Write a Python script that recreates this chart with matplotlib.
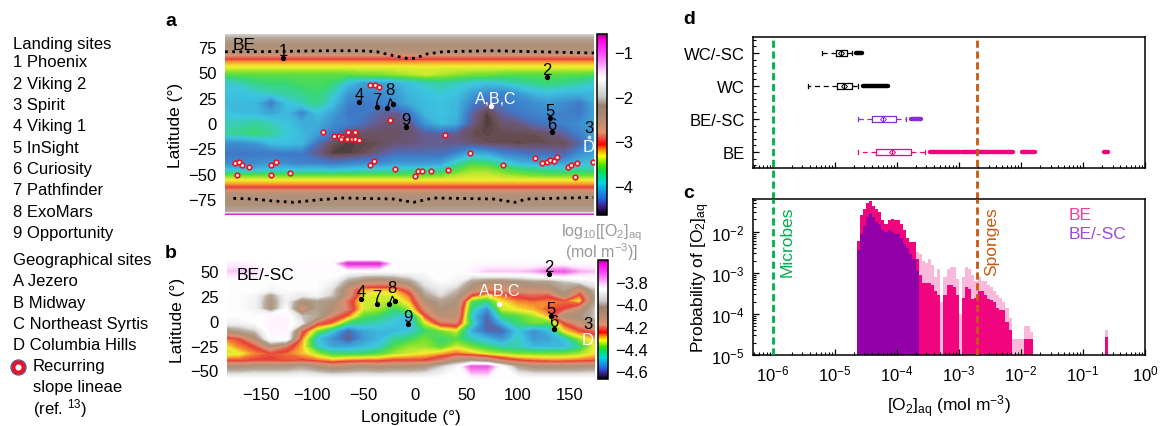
from matplotlib import pyplot as plt
from matplotlib.colors import LinearSegmentedColormap, Normalize
from matplotlib.cm import ScalarMappable
from matplotlib.lines import Line2D
from matplotlib.ticker import LogLocator, NullFormatter, AutoMinorLocator
import numpy as np

W, H = 1161, 427

plt.rcParams['font.family'] = ['Liberation Sans', 'DejaVu Sans']
plt.rcParams['font.size'] = 12
plt.rcParams['mathtext.fontset'] = 'custom'
plt.rcParams['mathtext.rm'] = 'Liberation Sans'
plt.rcParams['mathtext.default'] = 'regular'

# left hand key
landing_sites = ['1 Phoenix', '2 Viking 2', '3 Spirit', '4 Viking 1', '5 InSight',
                 '6 Curiosity', '7 Pathfinder', '8 ExoMars', '9 Opportunity']
geo_sites = ['A Jezero', 'B Midway', 'C Northeast Syrtis', 'D Columbia Hills']

# map grid, log10 concentration
lon_grid = [-185, -170, -155, -140, -125, -110, -95, -80, -65, -50, -35, -20, -5, 10, 25,
            40, 55, 70, 85, 100, 115, 130, 145, 160, 175]
lat_a = [88, 78, 70, 66, 63, 60, 55, 48, 40, 30, 20, 10, 0, -10, -20, -30, -40, -46,
         -52, -56, -60, -63, -66, -70, -80, -88, -88.8, -89.6, -91]
field_a = [
    [-2.05] * 25,
    [-2.45] * 25,
    [-2.5] * 25,
    [-2.85] * 25,
    [-3.07] * 25,
    [-3.2] * 25,
    [-3.36] * 25,
    [-3.62, -3.6, -3.6, -3.6, -3.6, -3.6, -3.6, -3.6, -3.6, -3.55, -3.55, -3.5, -3.45, -3.4, -3.45, -3.5, -3.55, -3.55, -3.6, -3.62, -3.62, -3.62, -3.6, -3.62, -3.65],
    [-3.9, -3.85, -3.75, -3.7, -3.7, -3.65, -3.65, -3.7, -3.95, -4.1, -4.1, -4.05, -3.95, -3.85, -3.8, -3.85, -3.9, -3.95, -3.9, -3.8, -3.75, -3.7, -3.75, -3.8, -3.9],
    [-3.95, -3.95, -3.9, -3.85, -3.8, -3.75, -3.7, -3.85, -4.15, -4.2, -4.2, -4.15, -4.0, -3.95, -3.9, -3.95, -4.1, -4.2, -4.25, -4.15, -4.0, -3.95, -4.0, -4.0, -4.0],
    [-4.0, -3.98, -4.0, -4.3, -3.95, -3.85, -3.75, -3.95, -4.25, -4.3, -4.25, -4.2, -4.05, -3.98, -3.95, -4.0, -4.25, -4.4, -4.3, -4.25, -4.2, -4.15, -4.2, -4.3, -4.05],
    [-3.95, -3.98, -4.0, -4.1, -4.0, -4.25, -3.95, -4.1, -4.3, -4.3, -4.4, -4.45, -4.3, -4.0, -3.95, -4.0, -4.4, -4.6, -4.4, -4.3, -4.25, -4.2, -4.25, -4.3, -4.1],
    [-3.85, -3.85, -3.8, -3.85, -3.95, -4.05, -4.05, -4.2, -4.25, -4.35, -4.45, -4.5, -4.45, -4.15, -3.98, -4.05, -4.45, -4.62, -4.5, -4.48, -4.35, -4.3, -4.25, -4.2, -4.1],
    [-3.8, -3.75, -3.7, -3.78, -3.9, -4.0, -4.1, -4.3, -4.5, -4.52, -4.52, -4.52, -4.5, -4.42, -4.4, -4.45, -4.55, -4.58, -4.55, -4.55, -4.55, -4.5, -4.4, -4.25, -4.1],
    [-4.2, -4.2, -4.15, -4.0, -3.95, -4.0, -4.35, -4.55, -4.6, -4.58, -4.55, -4.5, -4.48, -4.45, -4.45, -4.45, -4.5, -4.55, -4.55, -4.58, -4.55, -4.55, -4.55, -4.4, -4.15],
    [-4.3, -4.3, -4.3, -4.3, -4.3, -4.3, -4.45, -4.6, -4.6, -4.55, -4.45, -4.35, -4.35, -4.35, -4.35, -4.25, -4.05, -4.1, -4.25, -4.3, -4.35, -4.35, -4.4, -4.2, -4.1],
    [-4.2, -4.2, -4.2, -4.15, -4.2, -4.25, -4.25, -4.3, -4.25, -4.2, -4.2, -4.15, -4.15, -4.15, -4.1, -3.85, -3.65, -3.7, -3.85, -4.0, -4.05, -4.1, -4.1, -4.0, -3.95],
    [-3.95, -4.0, -4.0, -3.95, -3.95, -3.95, -3.95, -4.0, -3.95, -3.9, -3.9, -3.85, -3.85, -3.85, -3.85, -3.65, -3.5, -3.5, -3.6, -3.7, -3.75, -3.8, -3.85, -3.8, -3.8],
    [-3.58, -3.58, -3.58, -3.58, -3.58, -3.58, -3.58, -3.58, -3.58, -3.58, -3.58, -3.58, -3.58, -3.58, -3.55, -3.45, -3.4, -3.4, -3.45, -3.5, -3.55, -3.58, -3.58, -3.58, -3.58],
    [-3.35] * 25,
    [-3.2] * 25,
    [-3.07] * 25,
    [-2.85] * 25,
    [-2.5] * 25,
    [-2.45] * 25,
    [-2.2] * 25,
    [-1.6] * 25,
    [-0.8] * 25,
    [-0.75] * 25,
]

# map grid
lat_b = [62, 58, 50, 40, 32, 26, 20, 12, 5, -2, -10, -18, -26, -33, -40, -46, -59]
field_b = [
    [-3.88] * 25,
    [-3.85, -3.85, -3.88, -3.88, -3.88, -3.88, -3.88, -3.88, -3.65, -3.65, -3.65, -3.88, -3.88, -3.88, -3.88, -3.88, -3.88, -3.88, -3.88, -3.88, -3.88, -3.88, -3.88, -3.88, -3.88],
    [-3.8, -3.8, -3.82, -3.88, -3.88, -3.88, -3.88, -3.88, -3.9, -3.9, -3.9, -3.9, -3.9, -3.9, -3.9, -3.9, -3.85, -3.8, -3.8, -3.8, -3.78, -3.72, -3.7, -3.78, -3.8],
    [-3.9, -3.9, -3.9, -3.9, -3.9, -3.9, -3.9, -3.92, -4.05, -4.12, -4.15, -4.12, -4.05, -3.95, -3.9, -3.92, -4.05, -4.1, -4.1, -4.08, -4.05, -4.05, -4.0, -3.95, -3.92],
    [-3.89, -3.89, -3.89, -3.92, -3.9, -3.9, -3.9, -3.98, -4.15, -4.3, -4.3, -4.3, -4.2, -4.0, -3.95, -4.0, -4.12, -4.2, -4.18, -4.15, -4.15, -4.13, -4.05, -4.18, -4.0],
    [-3.9, -3.9, -3.92, -4.05, -3.92, -3.95, -3.92, -4.0, -4.15, -4.33, -4.34, -4.33, -4.27, -4.05, -3.98, -4.05, -4.25, -4.32, -4.27, -4.24, -4.22, -4.24, -4.1, -4.27, -4.05],
    [-3.9, -3.9, -3.93, -4.08, -3.93, -4.1, -4.05, -4.08, -4.22, -4.34, -4.34, -4.36, -4.3, -4.12, -4.05, -4.08, -4.4, -4.43, -4.32, -4.28, -4.27, -4.28, -4.27, -4.33, -4.05],
    [-3.9, -3.9, -3.93, -4.08, -3.9, -4.2, -4.05, -4.1, -4.2, -4.34, -4.36, -4.42, -4.36, -4.18, -4.08, -4.12, -4.44, -4.55, -4.34, -4.32, -4.3, -4.26, -4.25, -4.15, -4.0],
    [-3.9, -3.9, -3.9, -3.86, -3.86, -4.0, -4.03, -4.2, -4.28, -4.4, -4.42, -4.46, -4.5, -4.26, -4.12, -4.12, -4.48, -4.6, -4.42, -4.4, -4.36, -4.3, -4.1, -4.08, -4.0],
    [-3.93, -3.93, -3.9, -3.86, -3.86, -3.95, -4.22, -4.28, -4.42, -4.44, -4.46, -4.48, -4.5, -4.34, -4.22, -4.2, -4.44, -4.62, -4.5, -4.42, -4.38, -4.4, -4.25, -4.15, -4.05],
    [-4.1, -4.05, -4.0, -3.86, -3.86, -4.22, -4.38, -4.48, -4.6, -4.52, -4.5, -4.5, -4.48, -4.42, -4.38, -4.34, -4.52, -4.6, -4.6, -4.48, -4.55, -4.5, -4.32, -4.26, -4.22],
    [-4.28, -4.25, -4.12, -3.88, -3.88, -4.28, -4.48, -4.55, -4.62, -4.54, -4.5, -4.44, -4.42, -4.38, -4.42, -4.4, -4.46, -4.5, -4.54, -4.46, -4.54, -4.52, -4.48, -4.36, -4.3],
    [-4.33, -4.28, -4.25, -4.12, -4.22, -4.3, -4.46, -4.52, -4.52, -4.5, -4.47, -4.4, -4.36, -4.36, -4.4, -4.34, -4.38, -4.42, -4.46, -4.46, -4.5, -4.5, -4.5, -4.44, -4.32],
    [-4.34, -4.33, -4.28, -4.26, -4.27, -4.3, -4.36, -4.42, -4.42, -4.42, -4.4, -4.36, -4.34, -4.32, -4.3, -4.27, -4.3, -4.34, -4.36, -4.38, -4.38, -4.38, -4.38, -4.36, -4.32],
    [-4.26, -4.26, -4.25, -4.25, -4.26, -4.25, -4.27, -4.3, -4.28, -4.27, -4.27, -4.25, -4.25, -4.25, -4.2, -4.1, -4.08, -4.12, -4.2, -4.25, -4.27, -4.28, -4.28, -4.27, -4.26],
    [-4.1, -4.1, -4.08, -4.08, -4.08, -4.05, -4.1, -4.15, -4.12, -4.1, -4.12, -4.1, -4.1, -4.08, -4.0, -3.92, -3.7, -3.7, -3.9, -4.05, -4.1, -4.1, -4.1, -4.1, -4.08],
    [-3.88] * 25,
]

# polar dotted lines in panel a
north_lon = [-184.5, -150.5, -85.7, -53.4, -37.2, -21, -8.1, 0, 11.3, 27.5, 75.9, 174]
north_lat = [70.4, 70.4, 71.4, 71.4, 70.4, 66.5, 63.9, 63.9, 68.1, 70.4, 71.4, 69.1]
south_lon = [-176.4, -157, -140.8, -118, -92.2, -69.6, -21, -1.6, 17.8, 75.9, 97, 108.4, 173]
south_lat = [-74.4, -75, -76.7, -78.3, -75.7, -74, -75, -78.3, -74, -75, -78.3, -75, -73.4]

# recurring slope lineae
rsl_lon = [-43.7, -38.8, -35, -24.3, -89.6, -78.3, -74.1, -70.9, -71.5, -66.3, -65.4, -57.9, -60.8, -57.9, -54.4,
           -43.4, -40.1, -174.8, -171.2, -167.7, -161.5, -172.5, -139.5, -134.6, -139.5, -121.4, -19.7, 2.6, 6.5,
           0.3, 15.9, 31.7, 29.5, 53.7, 85.4, 116.8, 123, 127.9, 131.4, 135.2, 137.6, 148.5, 151.2, 157, 155.3, 172.8]
rsl_lat = [37.8, 37.8, 35.2, 3, -9.2, -12.8, -12.8, -14.1, -15.5, -15.5, -8.6, -9.2, -15.5, -15.5, -16.8,
           -41.1, -37.5, -39.8, -38.8, -41.1, -43.8, -51.3, -41.1, -38.8, -51.3, -49.4, -45.7, -47.4, -47.4,
           -52.6, -47.4, -46.4, -12.2, -29.9, -41.8, -34.6, -39.8, -38.8, -36.5, -37.8, -33.9, -43.8, -41.1, -39.8, -53.6, -38.8]

# landing sites: label, lon, lat
sites_a = [('1', -128, 64), ('2', 128, 45), ('4', -54, 21), ('7', -37, 16), ('9', -9, -4), ('5', 131, 5), ('6', 133, -9)]
sites_b = [('2', 130, 47), ('4', -52, 22), ('7', -37, 17), ('9', -7, -3), ('5', 132, 5), ('6', 135, -8)]
exomars_a = [(-27, 15), (-21, 19)]
exomars_b = [(-25, 17), (-19, 20)]
abc_a = (74, 17)
abc_b = (82, 17)
spirit_a = (169, -14)

# box stats in log10 mol m-3
box_names = ['BE', 'BE/-SC', 'WC', 'WC/-SC']
box_colors = ['#f0057f', '#8a2be2', 'black', 'black']
box_low = [-4.63, -4.63, -5.435, -5.215]
box_q1 = [-4.34, -4.40, -4.96, -4.98]
box_med = [-4.08, -4.23, -4.86, -4.90]
box_q3 = [-3.77, -4.02, -4.72, -4.81]
box_high = [-3.54, -3.85, -4.63, -4.72]
flier_runs = [
    [(-3.47, -2.99), (-2.95, -2.13), (-1.98, -1.78), (-0.66, -0.59)],
    [(-3.77, -3.61)],
    [(-4.54, -4.15)],
    [(-4.66, -4.56)],
]
microbes_limit = 1e-6
sponges_limit = 1.95e-3

# histogram, log10 bin edges and log10 probabilities
hist_edges = [-4.65, -4.6, -4.55, -4.5, -4.45, -4.4, -4.35, -4.3, -4.25, -4.2, -4.15, -4.1, -4.05, -4.0, -3.95, -3.9,
              -3.85, -3.8, -3.75, -3.7, -3.65, -3.6, -3.55, -3.5, -3.45, -3.4, -3.35, -3.3, -3.25, -3.2, -3.15, -3.1,
              -3.05, -3.0, -2.95, -2.9, -2.85, -2.8, -2.75, -2.7, -2.65, -2.6, -2.55, -2.5, -2.45, -2.4, -2.35, -2.3,
              -2.25, -2.2, -2.15, -1.95, -1.9, -1.85, -1.8, -0.65, -0.6]
be_solid = [-2.22, -1.6, -1.45, -1.3, -1.24, -1.36, -1.45, -1.52, -1.72, -1.8, -1.7, -1.68, -1.72, -1.7, -1.82, -1.95,
            -2.15, -2.25, -2.25, -2.65, -3.05, -3.25, -3.25, -3.25, -3.3, -3.45, -3.55, -9, -3.55, -3.3, -3.3, -3.35,
            -3.55, -9, -3.62, -3.35, -3.4, -3.63, -3.6, -3.45, -3.45, -3.55, -3.63, -3.65, -3.7, -3.85, -3.9, -3.9,
            -4.2, -4.4, -9, -4.6, -4.6, -4.6, -9, -4.55]
be_spikes = [-2.22, -1.6, -1.45, -1.3, -1.24, -1.36, -1.45, -1.52, -1.72, -1.8, -1.7, -1.68, -1.72, -1.7, -1.82, -1.95,
             -2.15, -2.25, -2.25, -2.5, -2.55, -2.7, -2.75, -2.65, -2.8, -3.1, -2.9, -3.7, -3.1, -2.9, -2.85, -2.85,
             -3.15, -4.0, -3.1, -2.85, -2.9, -3.05, -3.2, -3.1, -3.2, -3.2, -3.3, -3.35, -3.45, -3.55, -3.6, -3.7,
             -3.85, -4.1, -4.6, -4.3, -4.3, -4.45, -9, -4.4]
besc_solid = [-2.45, -2.05, -1.85, -1.65, -1.55, -1.65, -1.75, -1.8, -1.95, -2.0, -1.95, -2.0, -2.05, -2.05, -2.15, -2.3,
              -2.4, -2.55, -2.65, -2.95]

cmap_nodes = [(-4.65, '#000000'), (-4.45, '#402090'), (-4.3, '#2060e0'), (-3.93, '#00d8e0'), (-3.7, '#00e060'),
              (-3.55, '#40e000'), (-3.33, '#ffff00'), (-3.18, '#ff8000'), (-3.07, '#ff0000'), (-2.8, '#e09070'),
              (-2.43, '#a88a70'), (-2.2, '#9a8070'), (-2.0, '#c8c8c8'), (-1.6, '#ffffff'), (-1.46, '#ffe0ff'),
              (-1.24, '#ff90ff'), (-1.0, '#ff40ff'), (-0.72, '#ff00e0'), (-0.6, '#9a0090')]
# the maps are a translucent overlay so they sit paler and browner at the low end
map_nodes = [(-4.65, '#3a2e30'), (-4.55, '#6a5055'), (-4.45, '#6a5a8a'), (-4.3, '#3f78c8'), (-3.93, '#3cc6e0'), (-3.7, '#38d870'),
             (-3.55, '#70e030'), (-3.33, '#f5ee30'), (-3.18, '#f59030'), (-3.07, '#e84038'), (-2.8, '#d89070'),
             (-2.43, '#ab917a'), (-2.2, '#b8aa9c'), (-2.0, '#e2e2e2'), (-1.7, '#ffffff'), (-1.46, '#ffe8ff'),
             (-1.24, '#f8a0f0'), (-1.0, '#f060e8'), (-0.72, '#e020d0'), (-0.6, '#b030b0')]


def make_cmap(nodes, name):
    lo, hi = nodes[0][0], nodes[-1][0]
    return LinearSegmentedColormap.from_list(name, [((v - lo) / (hi - lo), c) for v, c in nodes], N=512)


cbar_cmap = make_cmap(cmap_nodes, 'o2')
map_cmap = make_cmap(map_nodes, 'o2map')


def add_axes_px(left, top, right, bottom):
    return fig.add_axes([left / W, 1 - bottom / H, (right - left) / W, (bottom - top) / H])


def fig_text(x, y, s, **kw):
    kw.setdefault('va', 'center')
    return fig.text(x / W, 1 - y / H, s, **kw)


def draw_map(ax, lats, field, vmin, vmax, xlim, ylim):
    levels = np.linspace(vmin, vmax, 200)
    ax.contourf(lon_grid, lats, np.array(field), levels=levels, cmap=map_cmap, extend='both')
    ax.set_xlim(*xlim)
    ax.set_ylim(*ylim)
    for s in ax.spines.values():
        s.set_visible(False)
    ax.tick_params(length=0, labelsize=12, pad=6)
    ax.set_ylabel('Latitude (°)', fontsize=12.5)


def draw_sites(ax, sites):
    for label, lon, lat in sites:
        ax.plot([lon], [lat], 'o', color='black', ms=2.8, zorder=5)
        ax.annotate(label, (lon, lat), xytext=(0, 5.5), textcoords='offset points', ha='center', va='center',
                    fontsize=12, zorder=6)


def draw_exomars(ax, pts):
    (x0, y0), (x1, y1) = pts
    top = (x0 + 3, y1 + 5)
    ax.plot([x0, top[0], x1], [y0, top[1], y1], color='black', lw=0.9, zorder=5)
    ax.plot([x0, x1], [y0, y1], 'o', color='black', ms=2.8, ls='none', zorder=5)
    ax.annotate('8', top, xytext=(0, 6.5), textcoords='offset points', ha='center', va='center', fontsize=12, zorder=6)


def draw_cbar(left, top, right, bottom, vmin, vmax, ticks):
    cax = add_axes_px(left, top, right, bottom)
    cb = fig.colorbar(ScalarMappable(Normalize(vmin, vmax), cbar_cmap), cax=cax, ticks=ticks)
    cb.ax.tick_params(length=0, labelsize=12, pad=5)
    cb.outline.set_linewidth(1.1)
    cb.minorticks_off()
    return cb


fig = plt.figure(figsize=(W / 100, H / 100), dpi=100)

# ---- key
fig_text(13, 44, 'Landing sites')
for i, name in enumerate(landing_sites):
    fig_text(13, 63 + i * 21.3, name)
fig_text(13, 261, 'Geographical sites')
for i, name in enumerate(geo_sites):
    fig_text(13, 282 + i * 21.2, name)
fig_text(33, 367, 'Recurring')
fig_text(33, 388, 'slope lineae')
fig_text(33, 409, '(ref. $^{13}$)')
fig.add_artist(Line2D([18 / W], [1 - 368 / H], transform=fig.transFigure, marker='o', ms=7.5, mfc='white',
                      mec='#e8102a', mew=3, ls='none'))
fig.add_artist(Line2D([18 / W], [1 - 368 / H], transform=fig.transFigure, marker='o', ms=11, mfc='none',
                      mec='#3a4a90', mew=0.7, ls='none'))

for x, y, s in [(171, 21, 'a'), (171, 254, 'b'), (689, 20, 'd'), (689, 194, 'c')]:
    fig_text(x, y, s, fontsize=14, fontweight='bold', ha='center')

# ---- panel a
ax_a = add_axes_px(225, 35, 594, 216)
draw_map(ax_a, lat_a, field_a, -4.65, -0.6, (-184.5, 173.8), (-90.8, 87.9))
ax_a.set_xticks([])
ax_a.set_yticks([75, 50, 25, 0, -25, -50, -75])
ax_a.plot(north_lon, north_lat, color='black', lw=2, ls=(0, (1, 1.6)), zorder=4)
ax_a.plot(south_lon, south_lat, color='black', lw=2, ls=(0, (1, 1.6)), zorder=4)
ax_a.scatter(rsl_lon, rsl_lat, s=11, facecolor='white', edgecolor='#f01020', linewidth=1.2, zorder=5)
draw_sites(ax_a, sites_a)
draw_exomars(ax_a, exomars_a)
ax_a.plot(*abc_a, 'o', color='white', ms=2.8, zorder=5)
ax_a.annotate('A,B,C', abc_a, xytext=(3, 5), textcoords='offset points', ha='center', va='center',
              color='white', fontsize=11.5, zorder=6)
ax_a.plot(*spirit_a, 'o', color='#c8d8e8', ms=1.8, zorder=5)
ax_a.annotate('3', spirit_a, xytext=(0, 7), textcoords='offset points', ha='center', va='center', fontsize=12, zorder=6)
ax_a.annotate('D', spirit_a, xytext=(0, -7), textcoords='offset points', ha='center', va='center', color='white', fontsize=12, zorder=6)
fig_text(233, 45, 'BE', fontsize=12.5)
draw_cbar(597, 35, 607, 216, -4.65, -0.6, [-1, -2, -3, -4])

# ---- panel b
ax_b = add_axes_px(227, 261, 595, 380)
draw_map(ax_b, lat_b, field_b, -4.67, -3.6, (-182.5, 174.8), (-58.6, 61.6))
ax_b.set_xticks([-150, -100, -50, 0, 50, 100, 150])
ax_b.set_yticks([50, 25, 0, -25, -50])
ax_b.set_xlabel('Longitude (°)', fontsize=12.5, labelpad=4.5)
draw_sites(ax_b, sites_b)
draw_exomars(ax_b, exomars_b)
ax_b.plot(*abc_b, 'o', color='white', ms=2.8, zorder=5)
ax_b.annotate('A,B,C', abc_b, xytext=(0, 9.5), textcoords='offset points', ha='center', va='center',
              color='white', fontsize=11.5, zorder=6)
ax_b.text(168, -3, '3', ha='center', va='center', fontsize=12, zorder=6)
ax_b.text(168, -19, 'D', ha='center', va='center', color='white', fontsize=12, zorder=6)
fig_text(237, 276, 'BE/-SC', fontsize=12.5)
draw_cbar(598, 261, 608, 380, -4.67, -3.6, [-3.8, -4.0, -4.2, -4.4, -4.6])
fig_text(601, 233, 'log$_{10}$[[O$_2$]$_{aq}$', ha='center', color='#9a9a9a', fontsize=11.5)
fig_text(601, 252, '(mol m$^{-3}$)]', ha='center', color='#9a9a9a', fontsize=11.5)

# ---- panel d
ax_d = add_axes_px(753, 38, 1145, 169)
ax_d.set_xscale('log')
ax_d.set_xlim(10 ** -6.32, 1)
ax_d.set_ylim(0.515, 4.485)
positions = [1, 2, 3, 4]
for i, pos in enumerate(positions):
    col = box_colors[i]
    stats = [{'whislo': 10 ** box_low[i], 'q1': 10 ** box_q1[i], 'med': 10 ** box_med[i], 'q3': 10 ** box_q3[i],
              'whishi': 10 ** box_high[i], 'mean': 10 ** box_med[i], 'fliers': []}]
    ax_d.bxp(stats, positions=[pos], orientation='horizontal', widths=0.19, showmeans=True, manage_ticks=False,
             boxprops={'color': col, 'lw': 0.9},
             whiskerprops={'color': col, 'lw': 0.9, 'ls': (0, (4, 3))},
             capprops={'color': col, 'lw': 0.9},
             medianprops={'color': col, 'lw': 0.9},
             meanprops={'marker': 'D', 'ms': 3, 'mfc': 'none', 'mec': col, 'mew': 0.7})
    for a, b in flier_runs[i]:
        ax_d.plot([10 ** a, 10 ** b], [pos, pos], color=col, lw=3.2, solid_capstyle='round')
ax_d.set_yticks(positions)
ax_d.set_yticklabels(box_names)
ax_d.yaxis.set_minor_locator(AutoMinorLocator(5))
ax_d.xaxis.set_major_locator(LogLocator(base=10, numticks=12))
ax_d.xaxis.set_minor_locator(LogLocator(base=10, subs=np.arange(2, 10), numticks=12))
ax_d.xaxis.set_major_formatter(NullFormatter())
ax_d.xaxis.set_minor_formatter(NullFormatter())
ax_d.tick_params(axis='both', which='major', direction='in', length=4, width=0.9, labelsize=12, pad=6)
ax_d.tick_params(axis='both', which='minor', direction='in', length=2, width=0.8)
for s in ax_d.spines.values():
    s.set_linewidth(1.1)

# ---- panel c
ax_c = add_axes_px(753, 200, 1145, 356)
ax_c.set_xscale('log')
ax_c.set_yscale('log')
ax_c.set_xlim(10 ** -6.32, 1)
ax_c.set_ylim(1e-5, 10 ** -1.2)
edges = 10.0 ** np.array(hist_edges)
ax_c.stairs(10.0 ** np.array(be_spikes), edges, fill=True, color='#f0057f', alpha=0.28, lw=0, baseline=1e-6)
ax_c.stairs(10.0 ** np.array(be_solid), edges, fill=True, color='#f0057f', lw=0, baseline=1e-6)
ax_c.stairs(10.0 ** np.array(besc_solid), edges[:len(besc_solid) + 1], fill=True, color='#9200a8', lw=0, baseline=1e-6)
ax_c.set_xticks([1e-6, 1e-5, 1e-4, 1e-3, 1e-2, 1e-1, 1])
ax_c.xaxis.set_minor_locator(LogLocator(base=10, subs=np.arange(2, 10), numticks=12))
ax_c.yaxis.set_minor_locator(LogLocator(base=10, subs=np.arange(2, 10), numticks=12))
ax_c.xaxis.set_minor_formatter(NullFormatter())
ax_c.yaxis.set_minor_formatter(NullFormatter())
ax_c.set_yticks([1e-5, 1e-4, 1e-3, 1e-2])
ax_c.tick_params(axis='both', which='major', direction='in', length=4, width=0.9, labelsize=12, pad=6)
ax_c.tick_params(axis='both', which='minor', direction='in', length=2, width=0.8)
ax_c.set_xlabel('[O$_2$]$_{aq}$ (mol m$^{-3}$)', fontsize=12.5, labelpad=7)
ax_c.set_ylabel('Probability of [O$_2$]$_{aq}$', fontsize=12.5, labelpad=-1)
for s in ax_c.spines.values():
    s.set_linewidth(1.1)
fig_text(787, 242, 'Microbes', rotation=90, ha='center', color='#00b050', fontsize=12.5)
fig_text(992, 242, 'Sponges', rotation=90, ha='center', color='#c55a11', fontsize=12.5)
fig_text(1069, 216, 'BE', color='#f0409a', fontsize=12.5)
fig_text(1069, 235, 'BE/-SC', color='#9b4be8', fontsize=12.5)

# limit lines run through the gap between d and c
for limit, col in [(microbes_limit, '#00b050'), (sponges_limit, '#c55a11')]:
    ax_d.axvline(limit, ymin=-0.235, ymax=1, color=col, lw=2, ls=(0, (2.6, 1.3)), clip_on=False, zorder=6)
    ax_c.axvline(limit, color=col, lw=2, ls=(0, (2.6, 1.3)), zorder=6)

fig.savefig('out.png', dpi=100)
